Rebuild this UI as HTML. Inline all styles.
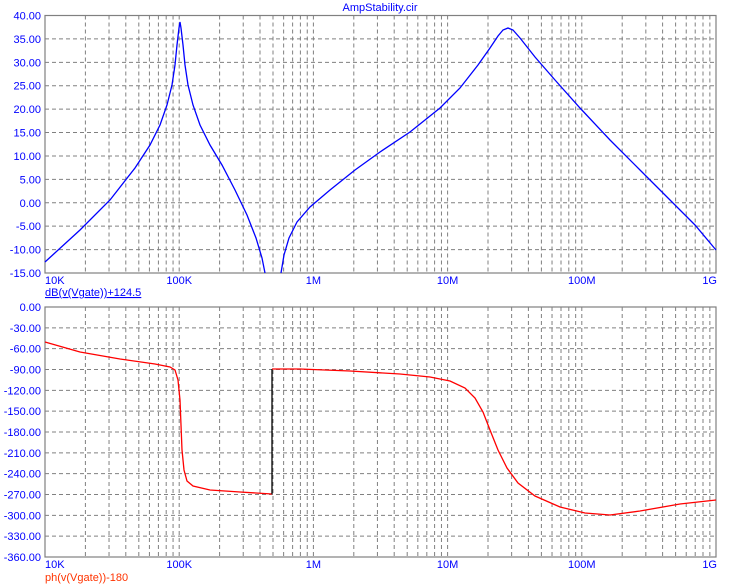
<!DOCTYPE html>
<html><head><style>
html,body{margin:0;padding:0;background:#fff;}
svg{display:block;font-family:"Liberation Sans",Arial,sans-serif;font-size:11px;}
</style></head><body>
<svg width="733" height="587" viewBox="0 0 733 587" xmlns="http://www.w3.org/2000/svg">
<rect width="733" height="587" fill="#fff"/>
<text x="380" y="11" fill="#0000ff" text-anchor="middle">AmpStability.cir</text>
<g id="grid" stroke="#808080" stroke-dasharray="4,3" stroke-width="1"></g>
<g stroke="#808080" fill="none" stroke-width="1.2">
<rect x="45" y="15.5" width="671" height="257.5"/>
<rect x="45" y="307" width="671" height="250"/>
</g>
<g id="lbl" fill="#0000ff" font-size="11"></g>
<polyline fill="none" stroke="#0000ff" stroke-width="1.3" points="45,262 80,230 110,200 135,168 150,145 160,125 167,105 172,85 175,65 177,45 179,28 180,22 181,28 183,45 185,65 188,85 193,105 200,125 210,145 222,165 235,190 247,215 256,238 262,258 265,273"/>
<polyline fill="none" stroke="#0000ff" stroke-width="1.3" points="281,273 284,255 289,238 297,222 310,207 330,190 355,170 380,152 410,132 440,108 460,88 478,65 490,48 498,36 503,30 508,28 513,30 520,38 535,57 555,80 580,108 610,140 640,170 670,200 695,225 716,250"/>
<polyline fill="none" stroke="#ff0000" stroke-width="1.3" points="45,342 80,352 120,359 155,364 170,367 175,370 178,380 180,400 181,425 182,450 184,470 187,481 193,486 210,490 240,492 272,494"/>
<polyline fill="none" stroke="#000" stroke-width="1.3" points="272,494 272,369"/>
<polyline fill="none" stroke="#ff0000" stroke-width="1.3" points="272,369 300,369 350,371 400,374 430,377 450,381 465,388 475,398 483,412 490,430 498,450 507,468 518,483 535,496 560,507 585,513 610,515 640,511 680,504 716,500"/>
<text x="45" y="296" fill="#0000ff" text-decoration="underline">dB(v(Vgate))+124.5</text>
<text x="45" y="581" fill="#ff3300">ph(v(Vgate))-180</text>
<script>
var g=document.getElementById('grid'),l=document.getElementById('lbl'),ns='http://www.w3.org/2000/svg';
function ln(x1,y1,x2,y2){var e=document.createElementNS(ns,'line');e.setAttribute('x1',x1);e.setAttribute('y1',y1);e.setAttribute('x2',x2);e.setAttribute('y2',y2);g.appendChild(e);}
function tx(x,y,s,a){var e=document.createElementNS(ns,'text');e.setAttribute('x',x);e.setAttribute('y',y);if(a)e.setAttribute('text-anchor',a);e.textContent=s;l.appendChild(e);}
var x0=45,dec=134.2;
for(var d=0;d<5;d++)for(var k=2;k<=10;k++){var x=x0+dec*(d+Math.log10(k));if(x<715){ln(x,15.5,x,273);ln(x,307,x,557);}}
var xl=['10K','100K','1M','10M','100M','1G'];
for(var i=0;i<6;i++){var a=i==0?'start':(i==5?'end':'middle');var x=i==0?45:(i==5?717:x0+dec*i);tx(x,284,xl[i],a);tx(x,568,xl[i],a);}
for(var i=0;i<=11;i++){var y=15.5+i*257.5/11;if(i>0&&i<11)ln(45,y,716,y);tx(41,y+4,(40-5*i).toFixed(2),'end');}
for(var i=0;i<=12;i++){var y=307+i*250/12;if(i>0&&i<12)ln(45,y,716,y);tx(41,y+4,(-30*i).toFixed(2),'end');}
</script>
</svg>
</body></html>
